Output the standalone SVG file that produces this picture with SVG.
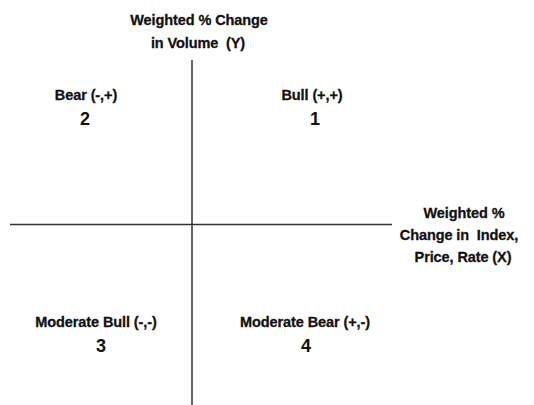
<svg xmlns="http://www.w3.org/2000/svg" width="534" height="405" viewBox="0 0 534 405">
<style>
.lbl{font-family:"Liberation Sans",Arial,sans-serif;font-weight:bold;font-size:14.5px;fill:#111;text-anchor:middle;letter-spacing:-0.1px;stroke:#111;stroke-width:0.3}
.num{font-family:"Liberation Sans",Arial,sans-serif;font-weight:bold;font-size:18px;fill:#111;text-anchor:middle}
.axis{stroke:#333;stroke-width:1.5;fill:none}
</style>
<rect width="534" height="405" fill="#fff"/>
<g id="connectors">
<line class="axis" x1="192" y1="60" x2="192" y2="405"/>
<line class="axis" x1="10" y1="224.5" x2="392" y2="224.5"/>
</g>
<g id="y-axis-label">
<text class="lbl" x="199" y="25">Weighted % Change</text>
<text class="lbl" x="198" y="48" xml:space="preserve">in Volume  (Y)</text>
</g>
<g id="x-axis-label">
<text class="lbl" x="464" y="218">Weighted %</text>
<text class="lbl" x="459" y="240" xml:space="preserve">Change in  Index,</text>
<text class="lbl" x="463" y="262">Price, Rate (X)</text>
</g>
<g id="q2">
<text class="lbl" x="86" y="100">Bear (-,+)</text>
<text class="num" x="85" y="125">2</text>
</g>
<g id="q1">
<text class="lbl" x="312" y="100">Bull (+,+)</text>
<text class="num" x="315" y="125">1</text>
</g>
<g id="q3">
<text class="lbl" x="96" y="327">Moderate Bull (-,-)</text>
<text class="num" x="101" y="352">3</text>
</g>
<g id="q4">
<text class="lbl" x="305" y="327">Moderate Bear (+,-)</text>
<text class="num" x="306" y="352">4</text>
</g>
</svg>
